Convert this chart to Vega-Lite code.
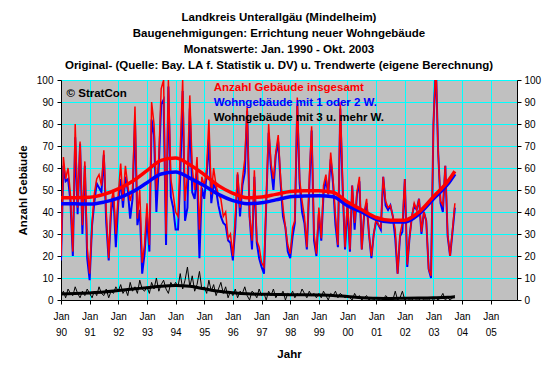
{
  "$schema": "https://vega.github.io/schema/vega-lite/v6.json",
  "width": 456,
  "height": 220,
  "autosize": {"type": "none"},
  "padding": {"left": 61, "top": 80, "right": 43, "bottom": 74},
  "background": "white",
  "title": {
    "text": ["Landkreis Unterallgäu (Mindelheim)", "Baugenehmigungen: Errichtung neuer Wohngebäude", "Monatswerte: Jan. 1990 - Okt. 2003", "Original- (Quelle: Bay. LA f. Statistik u. DV) u. Trendwerte (eigene Berechnung)"],
    "font": "Liberation Sans", "fontSize": 11.5, "fontWeight": "bold", "color": "black",
    "lineHeight": 16, "anchor": "middle", "frame": "group", "offset": 4, "dx": -10
  },
  "config": {
    "view": {"fill": "#C0C0C0", "stroke": "#808080"},
    "axis": {"labelFont": "Liberation Sans", "titleFont": "Liberation Sans", "labelColor": "black", "titleColor": "black", "domainColor": "black", "tickColor": "black", "gridColor": "#00FFFF", "gridOpacity": 1}
  },
  "datasets": {
    "raw": [
      {"d":"1990-01-01","t":20,"b":18,"m":2},{"d":"1990-02-01","t":65,"b":61,"m":4},{"d":"1990-03-01","t":55,"b":54,"m":1},{"d":"1990-04-01","t":60,"b":55,"m":5},{"d":"1990-05-01","t":48,"b":45,"m":3},{"d":"1990-06-01","t":22,"b":20,"m":2},{"d":"1990-07-01","t":80,"b":74,"m":6},{"d":"1990-08-01","t":42,"b":39,"m":3},{"d":"1990-09-01","t":72,"b":71,"m":1},{"d":"1990-10-01","t":34,"b":30,"m":4},{"d":"1990-11-01","t":63,"b":61,"m":2},{"d":"1990-12-01","t":24,"b":19,"m":5},
      {"d":"1991-01-01","t":12,"b":9,"m":3},{"d":"1991-02-01","t":35,"b":34,"m":1},{"d":"1991-03-01","t":48,"b":44,"m":4},{"d":"1991-04-01","t":55,"b":53,"m":2},{"d":"1991-05-01","t":57,"b":51,"m":6},{"d":"1991-06-01","t":52,"b":49,"m":3},{"d":"1991-07-01","t":68,"b":66,"m":2},{"d":"1991-08-01","t":40,"b":35,"m":5},{"d":"1991-09-01","t":19,"b":18,"m":1},{"d":"1991-10-01","t":44,"b":40,"m":4},{"d":"1991-11-01","t":50,"b":47,"m":3},{"d":"1991-12-01","t":30,"b":24,"m":6},
      {"d":"1992-01-01","t":48,"b":44,"m":4},{"d":"1992-02-01","t":62,"b":55,"m":7},{"d":"1992-03-01","t":45,"b":42,"m":3},{"d":"1992-04-01","t":61,"b":56,"m":5},{"d":"1992-05-01","t":52,"b":50,"m":2},{"d":"1992-06-01","t":45,"b":37,"m":8},{"d":"1992-07-01","t":50,"b":46,"m":4},{"d":"1992-08-01","t":88,"b":82,"m":6},{"d":"1992-09-01","t":37,"b":34,"m":3},{"d":"1992-10-01","t":50,"b":41,"m":9},{"d":"1992-11-01","t":17,"b":12,"m":5},{"d":"1992-12-01","t":25,"b":21,"m":4},
      {"d":"1993-01-01","t":44,"b":38,"m":6},{"d":"1993-02-01","t":25,"b":22,"m":3},{"d":"1993-03-01","t":90,"b":82,"m":8},{"d":"1993-04-01","t":80,"b":75,"m":5},{"d":"1993-05-01","t":50,"b":40,"m":10},{"d":"1993-06-01","t":65,"b":61,"m":4},{"d":"1993-07-01","t":96,"b":89,"m":7},{"d":"1993-08-01","t":100,"b":91,"m":9},{"d":"1993-09-01","t":30,"b":25,"m":5},{"d":"1993-10-01","t":100,"b":97,"m":3},{"d":"1993-11-01","t":55,"b":47,"m":8},{"d":"1993-12-01","t":48,"b":42,"m":6},
      {"d":"1994-01-01","t":40,"b":32,"m":8},{"d":"1994-02-01","t":38,"b":32,"m":6},{"d":"1994-03-01","t":68,"b":56,"m":12},{"d":"1994-04-01","t":100,"b":95,"m":5},{"d":"1994-05-01","t":45,"b":36,"m":9},{"d":"1994-06-01","t":57,"b":42,"m":15},{"d":"1994-07-01","t":93,"b":87,"m":6},{"d":"1994-08-01","t":60,"b":49,"m":11},{"d":"1994-09-01","t":50,"b":46,"m":4},{"d":"1994-10-01","t":65,"b":58,"m":7},{"d":"1994-11-01","t":32,"b":19,"m":13},{"d":"1994-12-01","t":56,"b":51,"m":5},
      {"d":"1995-01-01","t":52,"b":46,"m":6},{"d":"1995-02-01","t":60,"b":57,"m":3},{"d":"1995-03-01","t":82,"b":73,"m":9},{"d":"1995-04-01","t":48,"b":44,"m":4},{"d":"1995-05-01","t":60,"b":53,"m":7},{"d":"1995-06-01","t":52,"b":50,"m":2},{"d":"1995-07-01","t":48,"b":43,"m":5},{"d":"1995-08-01","t":46,"b":38,"m":8},{"d":"1995-09-01","t":38,"b":35,"m":3},{"d":"1995-10-01","t":40,"b":34,"m":6},{"d":"1995-11-01","t":28,"b":27,"m":1},{"d":"1995-12-01","t":30,"b":26,"m":4},
      {"d":"1996-01-01","t":20,"b":18,"m":2},{"d":"1996-02-01","t":38,"b":33,"m":5},{"d":"1996-03-01","t":58,"b":57,"m":1},{"d":"1996-04-01","t":42,"b":38,"m":4},{"d":"1996-05-01","t":55,"b":52,"m":3},{"d":"1996-06-01","t":64,"b":58,"m":6},{"d":"1996-07-01","t":88,"b":86,"m":2},{"d":"1996-08-01","t":38,"b":38,"m":0},{"d":"1996-09-01","t":27,"b":23,"m":4},{"d":"1996-10-01","t":59,"b":56,"m":3},{"d":"1996-11-01","t":27,"b":26,"m":1},{"d":"1996-12-01","t":24,"b":19,"m":5},
      {"d":"1997-01-01","t":17,"b":15,"m":2},{"d":"1997-02-01","t":15,"b":12,"m":3},{"d":"1997-03-01","t":44,"b":44,"m":0},{"d":"1997-04-01","t":80,"b":76,"m":4},{"d":"1997-05-01","t":62,"b":60,"m":2},{"d":"1997-06-01","t":55,"b":50,"m":5},{"d":"1997-07-01","t":67,"b":66,"m":1},{"d":"1997-08-01","t":75,"b":72,"m":3},{"d":"1997-09-01","t":55,"b":53,"m":2},{"d":"1997-10-01","t":42,"b":38,"m":4},{"d":"1997-11-01","t":33,"b":33,"m":0},{"d":"1997-12-01","t":25,"b":22,"m":3},
      {"d":"1998-01-01","t":21,"b":19,"m":2},{"d":"1998-02-01","t":33,"b":29,"m":4},{"d":"1998-03-01","t":36,"b":35,"m":1},{"d":"1998-04-01","t":92,"b":89,"m":3},{"d":"1998-05-01","t":55,"b":53,"m":2},{"d":"1998-06-01","t":45,"b":40,"m":5},{"d":"1998-07-01","t":38,"b":35,"m":3},{"d":"1998-08-01","t":24,"b":23,"m":1},{"d":"1998-09-01","t":55,"b":51,"m":4},{"d":"1998-10-01","t":79,"b":77,"m":2},{"d":"1998-11-01","t":30,"b":27,"m":3},{"d":"1998-12-01","t":21,"b":20,"m":1},
      {"d":"1999-01-01","t":42,"b":39,"m":3},{"d":"1999-02-01","t":28,"b":27,"m":1},{"d":"1999-03-01","t":52,"b":48,"m":4},{"d":"1999-04-01","t":57,"b":55,"m":2},{"d":"1999-05-01","t":48,"b":48,"m":0},{"d":"1999-06-01","t":67,"b":64,"m":3},{"d":"1999-07-01","t":55,"b":53,"m":2},{"d":"1999-08-01","t":38,"b":34,"m":4},{"d":"1999-09-01","t":25,"b":24,"m":1},{"d":"1999-10-01","t":90,"b":87,"m":3},{"d":"1999-11-01","t":52,"b":50,"m":2},{"d":"1999-12-01","t":24,"b":23,"m":1},
      {"d":"2000-01-01","t":45,"b":43,"m":2},{"d":"2000-02-01","t":23,"b":22,"m":1},{"d":"2000-03-01","t":52,"b":52,"m":0},{"d":"2000-04-01","t":35,"b":32,"m":3},{"d":"2000-05-01","t":49,"b":48,"m":1},{"d":"2000-06-01","t":56,"b":54,"m":2},{"d":"2000-07-01","t":23,"b":23,"m":0},{"d":"2000-08-01","t":40,"b":39,"m":1},{"d":"2000-09-01","t":46,"b":44,"m":2},{"d":"2000-10-01","t":30,"b":30,"m":0},{"d":"2000-11-01","t":20,"b":19,"m":1},{"d":"2000-12-01","t":30,"b":30,"m":0},
      {"d":"2001-01-01","t":37,"b":36,"m":1},{"d":"2001-02-01","t":34,"b":34,"m":0},{"d":"2001-03-01","t":33,"b":32,"m":1},{"d":"2001-04-01","t":56,"b":56,"m":0},{"d":"2001-05-01","t":45,"b":43,"m":2},{"d":"2001-06-01","t":42,"b":41,"m":1},{"d":"2001-07-01","t":43,"b":43,"m":0},{"d":"2001-08-01","t":38,"b":38,"m":0},{"d":"2001-09-01","t":32,"b":28,"m":4},{"d":"2001-10-01","t":12,"b":12,"m":0},{"d":"2001-11-01","t":30,"b":29,"m":1},{"d":"2001-12-01","t":35,"b":31,"m":4},
      {"d":"2002-01-01","t":55,"b":55,"m":0},{"d":"2002-02-01","t":16,"b":15,"m":1},{"d":"2002-03-01","t":28,"b":28,"m":0},{"d":"2002-04-01","t":38,"b":38,"m":0},{"d":"2002-05-01","t":44,"b":43,"m":1},{"d":"2002-06-01","t":41,"b":41,"m":0},{"d":"2002-07-01","t":46,"b":46,"m":0},{"d":"2002-08-01","t":31,"b":30,"m":1},{"d":"2002-09-01","t":40,"b":40,"m":0},{"d":"2002-10-01","t":36,"b":36,"m":0},{"d":"2002-11-01","t":14,"b":14,"m":0},{"d":"2002-12-01","t":11,"b":10,"m":1},
      {"d":"2003-01-01","t":80,"b":80,"m":0},{"d":"2003-02-01","t":108,"b":107,"m":1},{"d":"2003-03-01","t":68,"b":68,"m":0},{"d":"2003-04-01","t":45,"b":44,"m":1},{"d":"2003-05-01","t":43,"b":40,"m":3},{"d":"2003-06-01","t":61,"b":61,"m":0},{"d":"2003-07-01","t":30,"b":29,"m":1},{"d":"2003-08-01","t":20,"b":20,"m":0},{"d":"2003-09-01","t":32,"b":31,"m":1},{"d":"2003-10-01","t":44,"b":42,"m":2}
    ],
    "trend": [
      {"d":"1990-01-01","tt":46.5,"tb":43.8,"tm":2.7},{"d":"1990-07-01","tt":46.5,"tb":43.7,"tm":2.9},{"d":"1991-01-01","tt":46.7,"tb":43.6,"tm":3.2},{"d":"1991-07-01","tt":48,"tb":44.5,"tm":3.6},
      {"d":"1992-01-01","tt":50.5,"tb":46.3,"tm":4.3},{"d":"1992-07-01","tt":54,"tb":49.2,"tm":5},{"d":"1993-01-01","tt":58.8,"tb":53.3,"tm":5.6},{"d":"1993-07-01","tt":63.5,"tb":57.3,"tm":6.3},
      {"d":"1994-01-01","tt":64.5,"tb":58.2,"tm":6.6},{"d":"1994-07-01","tt":61.5,"tb":55.4,"tm":6.2},{"d":"1995-01-01","tt":57,"tb":51.9,"tm":5.1},{"d":"1995-07-01","tt":52,"tb":48,"tm":4},
      {"d":"1996-01-01","tt":48.5,"tb":45.2,"tm":3.3},{"d":"1996-07-01","tt":46.5,"tb":43.8,"tm":2.8},{"d":"1997-01-01","tt":46.8,"tb":44.2,"tm":2.6},{"d":"1997-07-01","tt":48,"tb":45.5,"tm":2.5},
      {"d":"1998-01-01","tt":49.3,"tb":46.9,"tm":2.4},{"d":"1998-07-01","tt":49.7,"tb":47.3,"tm":2.4},{"d":"1999-01-01","tt":49.7,"tb":47.4,"tm":2.3},{"d":"1999-07-01","tt":49,"tb":46.9,"tm":2.1},
      {"d":"2000-01-01","tt":44.5,"tb":42.9,"tm":1.6},{"d":"2000-07-01","tt":41,"tb":40,"tm":1},{"d":"2001-01-01","tt":37.5,"tb":36.7,"tm":0.8},{"d":"2001-07-01","tt":36.2,"tb":35.5,"tm":0.7},
      {"d":"2002-01-01","tt":36.3,"tb":35.5,"tm":0.8},{"d":"2002-07-01","tt":40,"tb":39.1,"tm":0.9},{"d":"2003-01-01","tt":47,"tb":46,"tm":1},{"d":"2003-07-01","tt":53.8,"tb":52.6,"tm":1.2},{"d":"2003-10-01","tt":58.5,"tb":57.3,"tm":1.5}
    ]
  },
  "resolve": {"axis": {"y": "independent"}},
  "layer": [
    {
      "data": {"name": "raw"},
      "mark": {"type": "line", "color": "#0000FF", "strokeWidth": 2, "clip": true},
      "encoding": {
        "x": {
          "field": "d", "type": "temporal",
          "scale": {"type": "utc", "domain": [{"year": 1990, "month": 1, "date": 1, "utc": true}, {"year": 2005, "month": 12, "date": 1, "utc": true}]},
          "axis": {
            "tickCount": {"interval": "year", "step": 1},
            "labelExpr": "[utcFormat(datum.value, '%b'), utcFormat(datum.value, '%y')]",
            "labelLineHeight": 16, "labelFontSize": 10, "labelPadding": 7, "labelOverlap": false, "labelFlush": false,
            "tickSize": 4, "grid": true, "gridWidth": 1,
            "title": "Jahr", "titleFontSize": 11.5, "titleFontWeight": "bold", "titlePadding": 11
          }
        },
        "y": {
          "field": "b", "type": "quantitative",
          "scale": {"domain": [0, 100], "nice": false},
          "axis": {
            "orient": "left", "values": [0,10,20,30,40,50,60,70,80,90,100],
            "grid": true, "gridWidth": 1, "tickSize": 4, "labelFontSize": 10, "labelPadding": 4,
            "title": "Anzahl Gebäude", "titleFontSize": 11.5, "titleFontWeight": "bold", "titlePadding": 8
          }
        }
      }
    },
    {
      "data": {"name": "raw"},
      "mark": {"type": "line", "color": "#FF0000", "strokeWidth": 1.5, "clip": true},
      "encoding": {
        "x": {"field": "d", "type": "temporal"},
        "y": {
          "field": "t", "type": "quantitative",
          "axis": {"orient": "right", "values": [0,10,20,30,40,50,60,70,80,90,100], "grid": false, "tickSize": 4, "labelFontSize": 10, "labelPadding": 3, "title": null}
        }
      }
    },
    {
      "data": {"name": "raw"},
      "mark": {"type": "line", "color": "#000000", "strokeWidth": 1, "clip": true},
      "encoding": {
        "x": {"field": "d", "type": "temporal"},
        "y": {"field": "m", "type": "quantitative", "axis": null}
      }
    },
    {
      "data": {"name": "trend"},
      "mark": {"type": "line", "color": "#0000FF", "strokeWidth": 3.5, "interpolate": "monotone"},
      "encoding": {
        "x": {"field": "d", "type": "temporal"},
        "y": {"field": "tb", "type": "quantitative", "axis": null}
      }
    },
    {
      "data": {"name": "trend"},
      "mark": {"type": "line", "color": "#FF0000", "strokeWidth": 3.5, "interpolate": "monotone"},
      "encoding": {
        "x": {"field": "d", "type": "temporal"},
        "y": {"field": "tt", "type": "quantitative", "axis": null}
      }
    },
    {
      "data": {"name": "trend"},
      "mark": {"type": "line", "color": "#000000", "strokeWidth": 3, "interpolate": "monotone"},
      "encoding": {
        "x": {"field": "d", "type": "temporal"},
        "y": {"field": "tm", "type": "quantitative", "axis": null}
      }
    },
    {
      "data": {"values": [{}]},
      "mark": {"type": "text", "text": "© StratCon", "font": "Liberation Sans", "fontSize": 11.5, "fontWeight": "bold", "color": "black", "align": "left", "baseline": "middle"},
      "encoding": {
        "x": {"datum": {"year": 1990, "month": 3, "date": 13, "utc": true}, "type": "temporal"},
        "y": {"datum": 93.6, "type": "quantitative", "axis": null}
      }
    },
    {
      "data": {"values": [{}]},
      "mark": {"type": "text", "text": "Anzahl Gebäude insgesamt", "font": "Liberation Sans", "fontSize": 11.5, "fontWeight": "bold", "color": "#FF0000", "align": "left", "baseline": "middle"},
      "encoding": {
        "x": {"datum": {"year": 1995, "month": 5, "date": 1, "utc": true}, "type": "temporal"},
        "y": {"datum": 96.4, "type": "quantitative", "axis": null}
      }
    },
    {
      "data": {"values": [{}]},
      "mark": {"type": "text", "text": "Wohngebäude mit 1 oder 2 W.", "font": "Liberation Sans", "fontSize": 11.5, "fontWeight": "bold", "color": "#0000FF", "align": "left", "baseline": "middle"},
      "encoding": {
        "x": {"datum": {"year": 1995, "month": 5, "date": 1, "utc": true}, "type": "temporal"},
        "y": {"datum": 89.5, "type": "quantitative", "axis": null}
      }
    },
    {
      "data": {"values": [{}]},
      "mark": {"type": "text", "text": "Wohngebäude mit 3 u. mehr W.", "font": "Liberation Sans", "fontSize": 11.5, "fontWeight": "bold", "color": "#000000", "align": "left", "baseline": "middle"},
      "encoding": {
        "x": {"datum": {"year": 1995, "month": 5, "date": 1, "utc": true}, "type": "temporal"},
        "y": {"datum": 82.7, "type": "quantitative", "axis": null}
      }
    }
  ]
}
